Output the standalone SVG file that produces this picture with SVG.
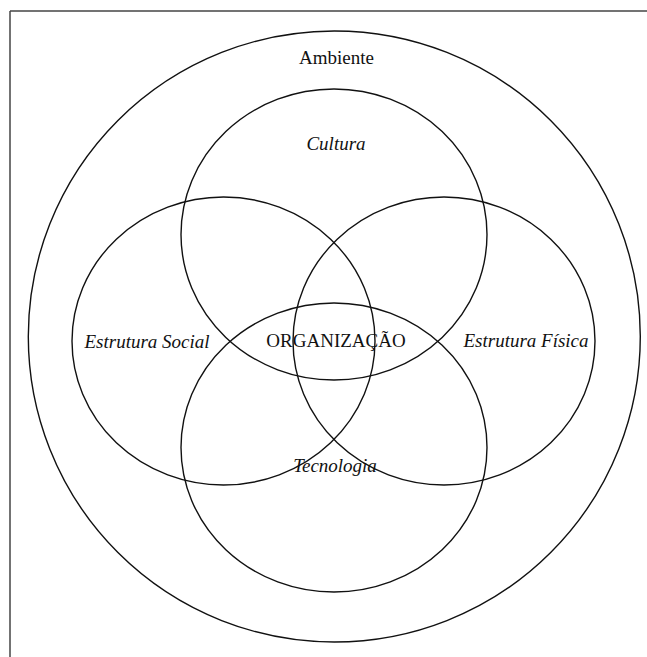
<svg xmlns="http://www.w3.org/2000/svg" width="647" height="657" viewBox="0 0 647 657">
  <style>
    .ring { fill: none; stroke: #111; stroke-width: 1.4; }
    .lbl { font-family: "Liberation Serif", "Times New Roman", serif; font-size: 19px; fill: #111; text-anchor: middle; }
    .it { font-style: italic; }
  </style>
  <rect width="647" height="657" fill="#fff"/>
  <!-- frame: top and left edges only -->
  <g id="frame" fill="none" stroke="#444" stroke-width="1.5">
    <line x1="10" y1="11" x2="647" y2="11"/>
    <line x1="10" y1="11" x2="10" y2="657"/>
  </g>
  <g id="ambiente">
    <ellipse class="ring" cx="334.3" cy="336.5" rx="306" ry="305.5"/>
    <text class="lbl" x="336.5" y="64">Ambiente</text>
  </g>
  <g id="cultura">
    <ellipse class="ring" cx="334" cy="234.5" rx="153" ry="145.5"/>
    <text class="lbl it" x="336" y="150">Cultura</text>
  </g>
  <g id="tecnologia">
    <ellipse class="ring" cx="334" cy="447.5" rx="153" ry="144.5"/>
    <text class="lbl it" x="335" y="472">Tecnologia</text>
  </g>
  <g id="estrutura-social">
    <ellipse class="ring" cx="223.5" cy="341" rx="151.5" ry="144"/>
    <text class="lbl it" x="147" y="347.5">Estrutura Social</text>
  </g>
  <g id="estrutura-fisica">
    <ellipse class="ring" cx="444" cy="341" rx="151" ry="144"/>
    <text class="lbl it" x="526" y="347">Estrutura Física</text>
  </g>
  <g id="organizacao">
    <text class="lbl" x="336" y="347">ORGANIZAÇÃO</text>
  </g>
</svg>
